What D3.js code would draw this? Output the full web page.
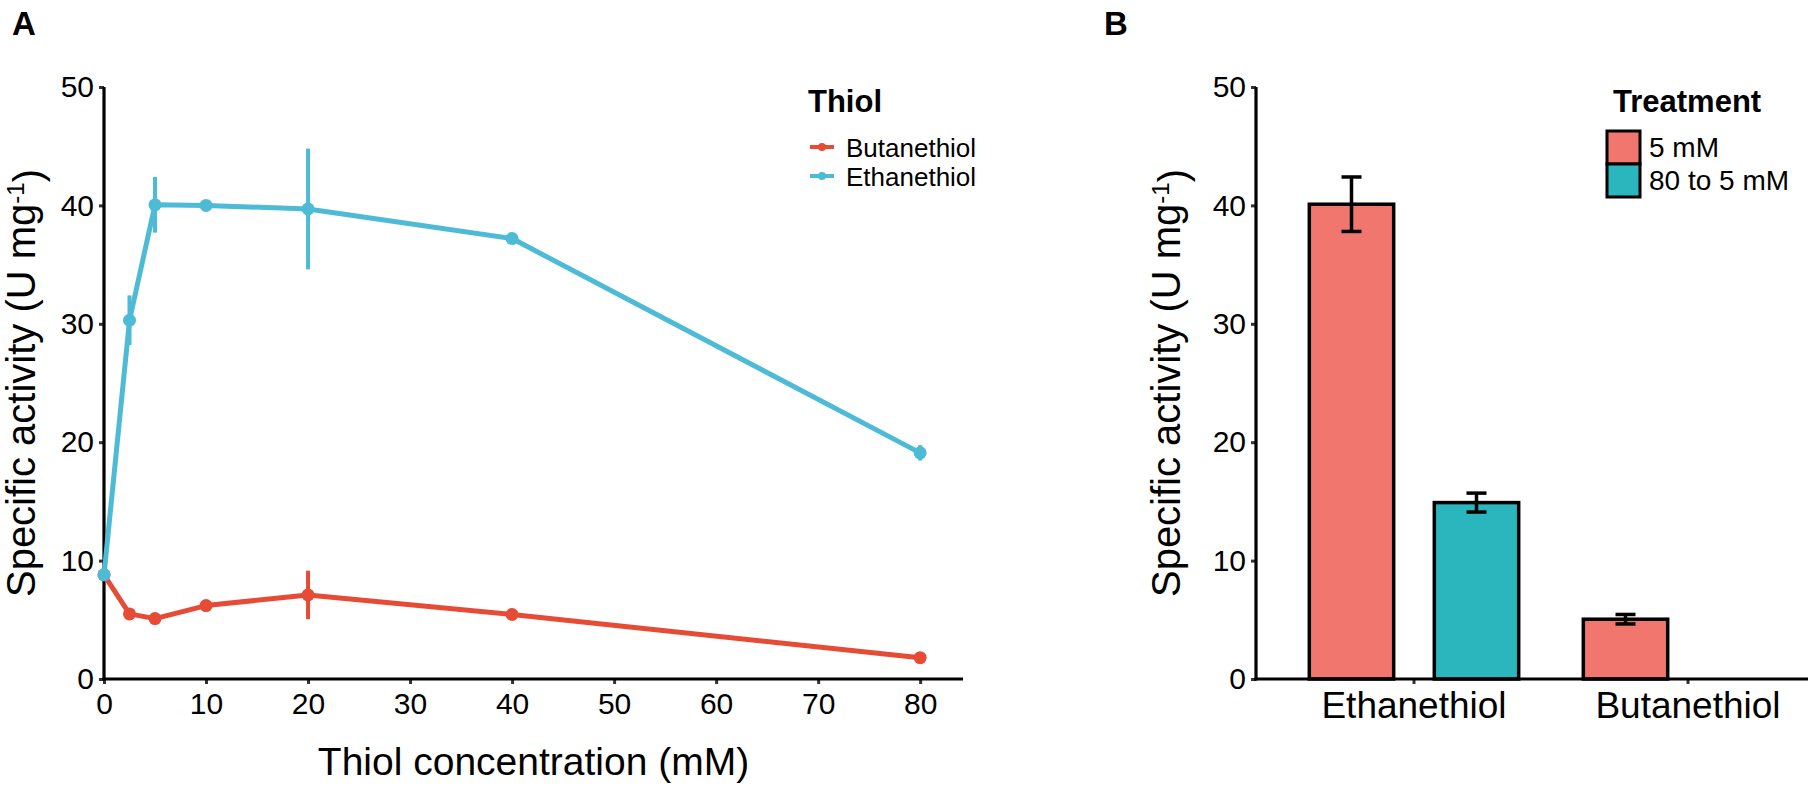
<!DOCTYPE html>
<html>
<head>
<meta charset="utf-8">
<script src="https://cdnjs.cloudflare.com/ajax/libs/d3/7.8.5/d3.min.js"></script>
<style>
  html, body { margin: 0; padding: 0; background: #fff; }
  svg { display: block; }
  text { font-family: "Liberation Sans", Arial, Helvetica, sans-serif; fill: #000; }
</style>
</head>
<body>
<svg id="chart" width="1813" height="789"></svg>
<script>
// ---------- Panel A data ----------
const concentrations = [0, 2.5, 5, 10, 20, 40, 80];
const ethanethiolMean = [8.8, 30.3, 40.05, 40.0, 39.7, 37.2, 19.1];
const ethanethiolErr  = [0, 2.1, 2.35, 0, 5.1, 0, 0.65];
const butanethiolMean = [8.8, 5.5, 5.1, 6.2, 7.1, 5.45, 1.8];
const butanethiolErr  = [0, 0, 0, 0, 2.05, 0, 0];
const seriesNames = ["Butanethiol", "Ethanethiol"];
const seriesColors = ["#E64B35", "#4DBBD5"];
const xTicksA = [0, 10, 20, 30, 40, 50, 60, 70, 80];
const yTicks = [0, 10, 20, 30, 40, 50];

// ---------- Panel B data ----------
const thiolCategories = ["Ethanethiol", "Butanethiol"];
const treatments = ["5 mM", "80 to 5 mM"];
const treatmentColors = ["#F1766E", "#2BB6BE"];
const barThiol     = ["Ethanethiol", "Ethanethiol", "Butanethiol"];
const barTreatment = ["5 mM", "80 to 5 mM", "5 mM"];
const barMean      = [40.1, 14.9, 5.05];
const barErr       = [2.3, 0.8, 0.4];

const svg = d3.select("#chart");
const FONT = '"Liberation Sans", Arial, Helvetica, sans-serif';

// ---------- layout ----------
const yTop = 87, yBottom = 679;
const A = { left: 104, right: 963 };
const B = { left: 1256, axisEnd: 1808 };

function styleAxis(g) {
  g.selectAll(".tick line").attr("stroke", "#333").attr("stroke-width", 3);
  g.selectAll(".tick text").style("font-family", FONT).attr("fill", "#000");
}

// ====================== PANEL A ======================
const xA = d3.scaleLinear().domain([0, 84.2]).range([A.left, A.right]);
const yA = d3.scaleLinear().domain([0, 50]).range([yBottom, yTop]);

const gA = svg.append("g");

const yAxisA = gA.append("g").attr("transform", `translate(${A.left},0)`)
  .call(d3.axisLeft(yA).tickValues(yTicks).tickSize(5).tickPadding(5).tickSizeOuter(0));
yAxisA.select(".domain").remove();
yAxisA.selectAll(".tick text").style("font-size", "30px");
styleAxis(yAxisA);

const xAxisA = gA.append("g").attr("transform", `translate(0,${yBottom})`)
  .call(d3.axisBottom(xA).tickValues(xTicksA).tickSize(5).tickPadding(9).tickSizeOuter(0));
xAxisA.select(".domain").remove();
xAxisA.selectAll(".tick text").style("font-size", "30px");
styleAxis(xAxisA);

gA.append("line").attr("x1", A.left).attr("x2", A.left).attr("y1", yTop).attr("y2", yBottom + 1.5)
  .attr("stroke", "#000").attr("stroke-width", 3.2);
gA.append("line").attr("x1", A.left - 1.5).attr("x2", A.right).attr("y1", yBottom).attr("y2", yBottom)
  .attr("stroke", "#000").attr("stroke-width", 3.2);

const series = [
  { name: seriesNames[0], color: seriesColors[0], mean: butanethiolMean, err: butanethiolErr },
  { name: seriesNames[1], color: seriesColors[1], mean: ethanethiolMean, err: ethanethiolErr }
];
const line = d3.line().x(d => xA(d.x)).y(d => yA(d.y));
series.forEach(s => {
  const pts = concentrations.map((c, i) => ({ x: c, y: s.mean[i], e: s.err[i] }));
  const g = gA.append("g");
  g.selectAll("line.err").data(pts.filter(p => p.e > 0)).enter().append("line")
    .attr("x1", d => xA(d.x)).attr("x2", d => xA(d.x))
    .attr("y1", d => yA(d.y - d.e)).attr("y2", d => yA(d.y + d.e))
    .attr("stroke", s.color).attr("stroke-width", 4);
  g.append("path").datum(pts).attr("d", line).attr("fill", "none")
    .attr("stroke", s.color).attr("stroke-width", 5).attr("stroke-linejoin", "round");
  g.selectAll("circle").data(pts).enter().append("circle")
    .attr("cx", d => xA(d.x)).attr("cy", d => yA(d.y)).attr("r", 6.5).attr("fill", s.color);
});

gA.append("text").attr("x", 12).attr("y", 35).style("font-size", "33px").style("font-weight", "bold").text("A");
gA.append("text").attr("x", (A.left + A.right) / 2).attr("y", 775).attr("text-anchor", "middle")
  .style("font-size", "39px").text("Thiol concentration (mM)");

function yTitle(g, x, y) {
  const t = g.append("text").attr("transform", `translate(${x},${y}) rotate(-90)`)
    .attr("text-anchor", "middle").style("font-size", "40px");
  t.append("tspan").text("Specific activity (U mg");
  t.append("tspan").attr("dy", "-0.45em").style("font-size", "24px").text("-1");
  t.append("tspan").attr("dy", "0.45em").text(")");
}
yTitle(gA, 35, (yTop + yBottom) / 2);

// legend A
const legA = gA.append("g").attr("transform", "translate(810,0)");
legA.append("text").attr("x", -2).attr("y", 112).style("font-size", "31px").style("font-weight", "bold").text("Thiol");
series.forEach((s, i) => {
  const cy = 147 + i * 29;
  legA.append("line").attr("x1", 0).attr("x2", 24).attr("y1", cy).attr("y2", cy)
    .attr("stroke", s.color).attr("stroke-width", 4);
  legA.append("circle").attr("cx", 12).attr("cy", cy).attr("r", 4).attr("fill", s.color);
  legA.append("text").attr("x", 36).attr("y", cy + 9.5).style("font-size", "26px").text(s.name);
});

// ====================== PANEL B ======================
const yB = d3.scaleLinear().domain([0, 50]).range([yBottom, yTop]);
const x0 = d3.scaleBand().domain(thiolCategories).range([B.left, 1846])
  .paddingInner(0).paddingOuter(0.0766);
const x1 = d3.scaleBand().domain(treatments).range([-125, 125]);
const barW = x1.bandwidth() * 0.675;
const color = d3.scaleOrdinal().domain(treatments).range(treatmentColors);

const gB = svg.append("g");

const yAxisB = gB.append("g").attr("transform", `translate(${B.left},0)`)
  .call(d3.axisLeft(yB).tickValues(yTicks).tickSize(5).tickPadding(5).tickSizeOuter(0));
yAxisB.select(".domain").remove();
yAxisB.selectAll(".tick text").style("font-size", "30px");
styleAxis(yAxisB);

const xAxisB = gB.append("g").attr("transform", `translate(0,${yBottom})`)
  .call(d3.axisBottom(x0).tickSize(5).tickPadding(8).tickSizeOuter(0));
xAxisB.select(".domain").remove();
xAxisB.selectAll(".tick text").style("font-size", "37px");
styleAxis(xAxisB);

const bars = barMean.map((m, i) => ({ thiol: barThiol[i], treatment: barTreatment[i], mean: m, err: barErr[i] }));
const cx = d => x0(d.thiol) + x0.bandwidth() / 2 + x1(d.treatment) + x1.bandwidth() / 2;

gB.selectAll("rect.bar").data(bars).enter().append("rect")
  .attr("x", d => cx(d) - barW / 2).attr("width", barW)
  .attr("y", d => yB(d.mean)).attr("height", d => yB(0) - yB(d.mean))
  .attr("fill", d => color(d.treatment)).attr("stroke", "#000").attr("stroke-width", 3.5);

const capW = 20;
const eg = gB.selectAll("g.err").data(bars).enter().append("g")
  .attr("stroke", "#000").attr("stroke-width", 3.5);
eg.append("line").attr("x1", cx).attr("x2", cx)
  .attr("y1", d => yB(d.mean - d.err)).attr("y2", d => yB(d.mean + d.err));
eg.append("line").attr("x1", d => cx(d) - capW / 2).attr("x2", d => cx(d) + capW / 2)
  .attr("y1", d => yB(d.mean + d.err)).attr("y2", d => yB(d.mean + d.err));
eg.append("line").attr("x1", d => cx(d) - capW / 2).attr("x2", d => cx(d) + capW / 2)
  .attr("y1", d => yB(d.mean - d.err)).attr("y2", d => yB(d.mean - d.err));

gB.append("line").attr("x1", B.left).attr("x2", B.left).attr("y1", yTop).attr("y2", yBottom + 1.5)
  .attr("stroke", "#000").attr("stroke-width", 3.2);
gB.append("line").attr("x1", B.left - 1.5).attr("x2", B.axisEnd).attr("y1", yBottom).attr("y2", yBottom)
  .attr("stroke", "#000").attr("stroke-width", 3.2);

gB.append("text").attr("x", 1104).attr("y", 35).style("font-size", "33px").style("font-weight", "bold").text("B");
yTitle(gB, 1180, (yTop + yBottom) / 2);

// legend B
const legB = gB.append("g").attr("transform", "translate(1607,0)");
legB.append("text").attr("x", 6).attr("y", 112).style("font-size", "31px").style("font-weight", "bold").text("Treatment");
treatments.forEach((t, i) => {
  const top = 131 + i * 33;
  legB.append("rect").attr("x", 0).attr("y", top).attr("width", 33).attr("height", 33)
    .attr("fill", color(t)).attr("stroke", "#000").attr("stroke-width", 3);
  legB.append("text").attr("x", 42).attr("y", top + 26).style("font-size", "28px").text(t);
});
</script>
</body>
</html>
